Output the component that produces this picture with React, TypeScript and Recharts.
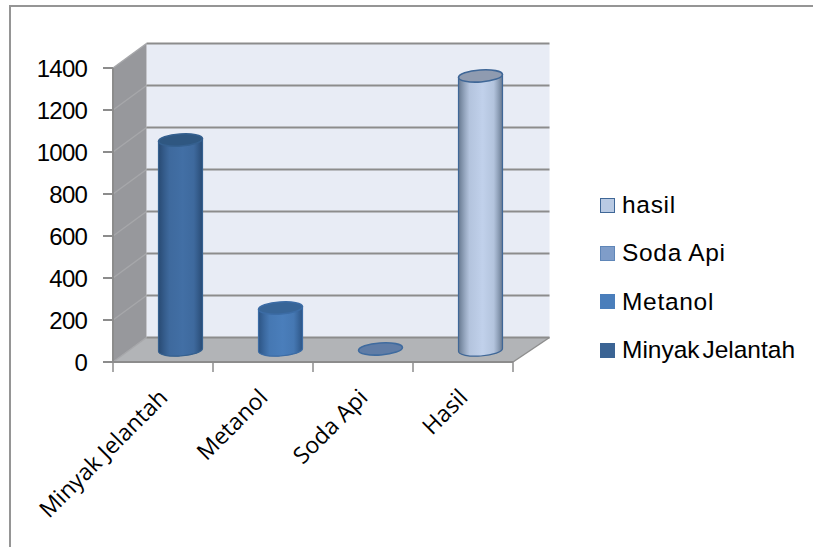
import { BarChart, Bar, XAxis, YAxis, CartesianGrid, Legend } from 'recharts';

const categories = ['Minyak Jelantah', 'Metanol', 'Soda Api', 'Hasil'];
const minyakJelantah = [1000, null, null, null];
const metanol = [null, 200, null, null];
const sodaApi = [null, null, 5, null];
const hasil = [null, null, null, 1305];
const yTicks = [0, 200, 400, 600, 800, 1000, 1200, 1400];

const rows = categories.map((category, i) => ({
  category,
  minyakJelantah: minyakJelantah[i],
  metanol: metanol[i],
  sodaApi: sodaApi[i],
  hasil: hasil[i],
}));

// front plane of the 3D box, the back wall sits up and to the right of it
const PLOT = { left: 113, right: 513, top: 68, bottom: 362 };
const BACK = { left: 146.5, right: 549.5, dy: -24.5 };
const BAR_SHIFT_X = 17.5;
const BAR_SHIFT_Y = -12;

const seriesStyles = {
  minyakJelantah: { edge: '#284a73', mid: '#426fa5', top: '#2f5781', line: '#35608f', swatch: '#3b6494', border: '#3b6494' },
  metanol: { edge: '#2c5484', mid: '#4a7ebb', top: '#386597', line: '#3c6ca5', swatch: '#4a7ebb', border: '#4a7ebb' },
  sodaApi: { edge: '#5d7ca6', mid: '#7f9ec9', top: '#5f7ca6', line: '#3f6b9f', swatch: '#7f9dc9', border: '#5f86b8' },
  hasil: { edge: '#66788f', mid: '#c1d1eb', top: '#8f9bb0', line: '#3f6797', swatch: '#b9cae3', border: '#3f6797' },
};

const legendNames: Record<string, keyof typeof seriesStyles> = {
  hasil: 'hasil',
  'Soda Api': 'sodaApi',
  Metanol: 'metanol',
  'Minyak Jelantah': 'minyakJelantah',
};

const Cylinder = (props: any) => {
  const { x, y, width, height, styleKey } = props;
  if (!height || height <= 0) return null;
  const s = seriesStyles[styleKey as keyof typeof seriesStyles];
  const cx = x + width / 2 + BAR_SHIFT_X;
  const rx = width / 2;
  const ry = 6;
  const tilt = -4;
  const lift = rx * Math.sin((4 * Math.PI) / 180);
  const topY = y + BAR_SHIFT_Y;
  const baseY = y + height + BAR_SHIFT_Y;
  const gradientId = `cyl-${styleKey}`;
  const body =
    `M${cx - rx},${topY + lift} L${cx - rx},${baseY + lift} ` +
    `A${rx},${ry} ${tilt} 0 0 ${cx + rx},${baseY - lift} ` +
    `L${cx + rx},${topY - lift} Z`;
  return (
    <g>
      <defs>
        <linearGradient id={gradientId} x1="0" x2="1" y1="0" y2="0">
          <stop offset="0" stopColor={s.edge} />
          <stop offset="0.25" stopColor={s.mid} stopOpacity={0.85} />
          <stop offset="0.55" stopColor={s.mid} />
          <stop offset="0.8" stopColor={s.mid} stopOpacity={0.85} />
          <stop offset="1" stopColor={s.edge} />
        </linearGradient>
      </defs>
      {height > 4 && <path d={body} fill={s.edge} />}
      {height > 4 && <path d={body} fill={`url(#${gradientId})`} stroke={s.line} strokeWidth={1.2} />}
      <ellipse
        cx={cx}
        cy={topY}
        rx={rx}
        ry={ry}
        fill={s.top}
        stroke={s.line}
        strokeWidth={1.6}
        transform={`rotate(${tilt} ${cx} ${topY})`}
      />
    </g>
  );
};

// walls and floor go down with the first grid line, so they stay behind everything else
const GridLine = (props: any) => {
  const { y1, index } = props;
  const backY = y1 + BACK.dy;
  return (
    <g>
      {index === 0 && (
        <g>
          <polygon
            points={`${BACK.left},${PLOT.top + BACK.dy} ${BACK.right},${PLOT.top + BACK.dy} ${BACK.right},${PLOT.bottom + BACK.dy} ${BACK.left},${PLOT.bottom + BACK.dy}`}
            fill="#e8ecf5"
          />
          <polygon
            points={`${PLOT.left},${PLOT.top} ${BACK.left},${PLOT.top + BACK.dy} ${BACK.left},${PLOT.bottom + BACK.dy} ${PLOT.left},${PLOT.bottom}`}
            fill="#97989c"
          />
          <polygon
            points={`${PLOT.left},${PLOT.bottom} ${BACK.left},${PLOT.bottom + BACK.dy} ${BACK.right},${PLOT.bottom + BACK.dy} ${PLOT.right},${PLOT.bottom}`}
            fill="#b2b4b7"
          />
          <line
            x1={BACK.right}
            y1={PLOT.bottom + BACK.dy}
            x2={PLOT.right}
            y2={PLOT.bottom}
            stroke="#8e8e8e"
            strokeWidth={1.5}
          />
        </g>
      )}
      <line x1={PLOT.left} y1={y1} x2={BACK.left} y2={backY} stroke="#a6a7aa" strokeWidth={1.5} />
      <line x1={BACK.left} y1={backY} x2={BACK.right} y2={backY} stroke="#8c8c8c" strokeWidth={2} />
    </g>
  );
};

const CategoryTick = (props: any) => {
  const { x, y, payload, index } = props;
  const band = (PLOT.right - PLOT.left) / categories.length;
  const anchorX = x + 6;
  const anchorY = y + 29;
  return (
    <g>
      <line x1={x - band / 2} x2={x - band / 2} y1={PLOT.bottom} y2={PLOT.bottom + 10} stroke="#8c8c8c" strokeWidth={1.5} />
      {index === categories.length - 1 && (
        <line x1={x + band / 2} x2={x + band / 2} y1={PLOT.bottom} y2={PLOT.bottom + 10} stroke="#8c8c8c" strokeWidth={1.5} />
      )}
      <text
        x={anchorX}
        y={anchorY}
        textAnchor="end"
        fontSize={23}
        fontFamily="'Open Sans', sans-serif"
        fill="#000"
        transform={`rotate(-45 ${anchorX} ${anchorY})`}
      >
        {payload.value}
      </text>
    </g>
  );
};

const SeriesLegend = (props: any) => {
  const items = [...(props.payload ?? [])].reverse();
  return (
    <div style={{ fontFamily: "'Liberation Sans', Arial, sans-serif", fontSize: 24.5, color: '#000' }}>
      {items.map((item: any) => {
        const s = seriesStyles[legendNames[item.value]];
        const isLong = item.value === 'Minyak Jelantah';
        return (
          <div key={item.value} style={{ height: 48.3, display: 'flex', alignItems: 'center' }}>
            <span
              style={{
                width: 13,
                height: 13,
                marginRight: 7,
                background: s.swatch,
                border: `1.5px solid ${s.border}`,
                flex: 'none',
              }}
            />
            {/* the long name sits on a narrow word gap */}
            <span style={{ whiteSpace: 'nowrap', letterSpacing: isLong ? 0 : 0.7, wordSpacing: isLong ? -4 : 0 }}>
              {item.value}
            </span>
          </div>
        );
      })}
    </div>
  );
};

export default function App() {
  return (
    <div style={{ position: 'absolute', left: 0, top: 0, width: 813, height: 547, overflow: 'hidden', background: '#fff' }}>
      <div
        style={{
          position: 'absolute',
          left: 9,
          top: 5,
          right: 0,
          bottom: 0,
          borderTop: '2px solid #959595',
          borderLeft: '2px solid #959595',
        }}
      />
      <BarChart
        width={813}
        height={547}
        data={rows}
        barSize={44}
        margin={{ top: PLOT.top, right: 813 - PLOT.right, bottom: 0, left: 0 }}
      >
        <CartesianGrid vertical={false} horizontal={(p: any) => <GridLine key={p.key} {...p} />} />
        <XAxis
          dataKey="category"
          height={547 - PLOT.bottom}
          interval={0}
          tickLine={false}
          axisLine={{ stroke: '#8c8c8c', strokeWidth: 2 }}
          tick={<CategoryTick />}
        />
        <YAxis
          domain={[0, 1400]}
          ticks={yTicks}
          interval={0}
          width={PLOT.left}
          tickSize={10}
          tickMargin={16}
          tickLine={{ stroke: '#8c8c8c', strokeWidth: 2 }}
          axisLine={{ stroke: '#8c8c8c', strokeWidth: 2 }}
          tick={{ fill: '#000', fontSize: 24, letterSpacing: -0.8, fontFamily: "'Liberation Sans', Arial, sans-serif" }}
        />
        <Legend
          layout="vertical"
          align="center"
          verticalAlign="middle"
          itemSorter={null}
          content={<SeriesLegend />}
          wrapperStyle={{ left: 600, top: 181, width: 210 }}
        />
        <Bar dataKey="minyakJelantah" name="Minyak Jelantah" stackId="a" fill="#3b6494" isAnimationActive={false} shape={(p: any) => <Cylinder {...p} styleKey="minyakJelantah" />} />
        <Bar dataKey="metanol" name="Metanol" stackId="a" fill="#4a7ebb" isAnimationActive={false} shape={(p: any) => <Cylinder {...p} styleKey="metanol" />} />
        <Bar dataKey="sodaApi" name="Soda Api" stackId="a" fill="#7f9dc9" isAnimationActive={false} shape={(p: any) => <Cylinder {...p} styleKey="sodaApi" />} />
        <Bar dataKey="hasil" name="hasil" stackId="a" fill="#b9cae3" isAnimationActive={false} shape={(p: any) => <Cylinder {...p} styleKey="hasil" />} />
      </BarChart>
    </div>
  );
}
